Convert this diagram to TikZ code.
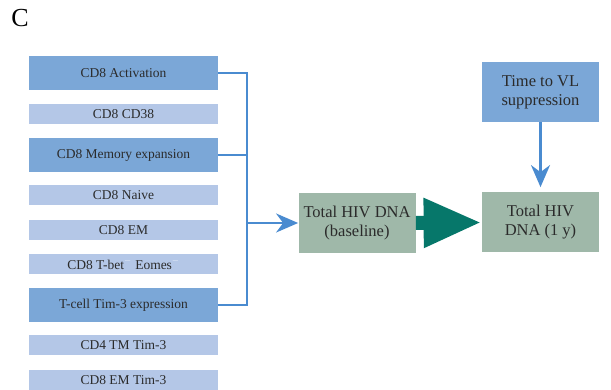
\documentclass[tikz,border=0pt]{standalone}
\usepackage{tikz}
\usepackage{fontspec}
\setmainfont{Liberation Serif}
\usetikzlibrary{arrows.meta}
\definecolor{darkbox}{HTML}{7BA7D7}
\definecolor{lightbox}{HTML}{B4C7E7}
\definecolor{greybox}{HTML}{9FB8A9}
\definecolor{linkblue}{HTML}{4A8BD0}
\definecolor{teal}{HTML}{06776A}
\definecolor{boxtext}{HTML}{2B2B2B}
\tikzset{every picture/.style={line width=0.75pt}}
\tikzset{
  factor/.style={fill=#1, inner sep=0pt, minimum width=189pt, text=boxtext,
    font=\fontsize{13.5}{15}\selectfont},
  bigfactor/.style={factor=darkbox, minimum height=34pt},
  smallfactor/.style={factor=lightbox, minimum height=20pt},
  outcome/.style={fill=#1, inner sep=0pt, minimum width=117pt, minimum height=60pt,
    text=boxtext, align=center, font=\fontsize{16.5}{19}\selectfont},
  link/.style={draw=linkblue, line width=2.2pt},
  linkarrow/.style={link, -{Stealth[length=22pt,width=19pt,inset=7pt]}},
}

\begin{document}
\begin{tikzpicture}[x=1pt,y=1pt,yscale=-1,xscale=1]
\useasboundingbox (0,0) rectangle (611,390);

% Panel letter
\node (panel) at (20,18) {\fontsize{26}{30}\selectfont C};

%Shape: Rectangle (left column)
\node[bigfactor] (act) at (123.5,73) {CD8 Activation};
\node[smallfactor] (cd38) at (123.5,114) {CD8 CD38};
\node[bigfactor] (mem) at (123.5,155) {CD8 Memory expansion};
\node[smallfactor] (naive) at (123.5,195.5) {CD8 Naive};
\node[smallfactor] (em) at (123.5,230) {CD8 EM};
\node[smallfactor] (tbet) at (123.5,264) {CD8 T-bet\textcolor{white!80!lightbox}{$^{-}$} Eomes\textcolor{white!80!lightbox}{$^{-}$}};
\node[bigfactor] (tim) at (123.5,305) {T-cell Tim-3 expression};
\node[smallfactor] (cdtm) at (123.5,345) {CD4 TM Tim-3};
\node[smallfactor] (emtim) at (123.5,380) {CD8 EM Tim-3};

%Shape: Rectangle (right side)
\node[outcome=greybox] (base) at (357,223) {Total HIV DNA\\(baseline)};
\node[outcome=greybox] (oney) at (540.5,222.5) {Total HIV\\DNA (1 y)};
\node[outcome=darkbox] (vl) at (540.5,92) {Time to VL\\suppression};

%Straight Lines (bracket)
\coordinate (brk) at (247,223);
\draw[link] (act.east) -- (act.east -| brk) -- (tim.east -| brk) -- (tim.east);
\draw[link] (mem.east) -- (mem.east -| brk);
\draw[linkarrow] (brk) -- (base.west);

%Straight Lines
\draw[linkarrow, shorten >=5pt] (vl.south) -- (oney.north);
\draw[draw=teal, line width=14pt, -{Triangle[length=58pt,width=46pt]}] (base.east) -- (oney.west);

\end{tikzpicture}
\end{document}
